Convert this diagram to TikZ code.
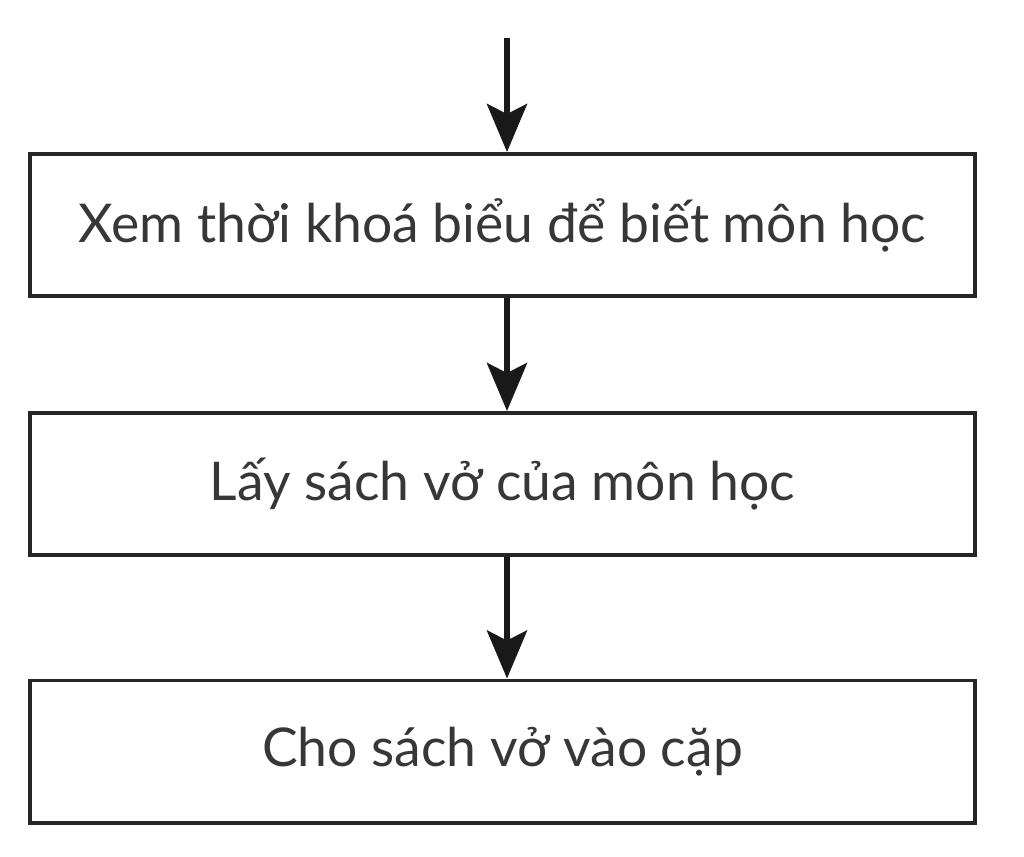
\documentclass[tikz,border=0pt]{standalone}
\usepackage{fontspec}
\setmainfont{Lato}
\usetikzlibrary{positioning,arrows.meta}
\definecolor{textgray}{RGB}{55,55,55}
\tikzset{
  stepbox/.style={draw=black!85, line width=2.8pt, minimum width=23.6cm, minimum height=3.55cm,
    inner sep=0pt, font=\fontsize{38}{44}\selectfont, text=textgray},
  flow/.style={line width=4.2pt, draw=black!90,
    -{Stealth[length=1.2cm, width=1.0cm, inset=0.25cm]}}
}
\begin{document}
\begin{tikzpicture}[x=0.025cm, y=-0.025cm]

\useasboundingbox (0,0) rectangle (1024,856);

\node[stepbox] (b1) at (502.5,225) {Xem thời khoá biểu để biết môn học};
\node[stepbox] (b2) at (502.5,484) {Lấy sách vở của môn học};
\node[stepbox] (b3) at (502.5,751.5) {Cho sách vở vào cặp};

\coordinate (start) at (507,38);

\draw[flow] (start) -- (b1.north -| start);
\draw[flow] (b1.south -| start) -- (b2.north -| start);
\draw[flow] (b2.south -| start) -- (b3.north -| start);

\end{tikzpicture}
\end{document}
